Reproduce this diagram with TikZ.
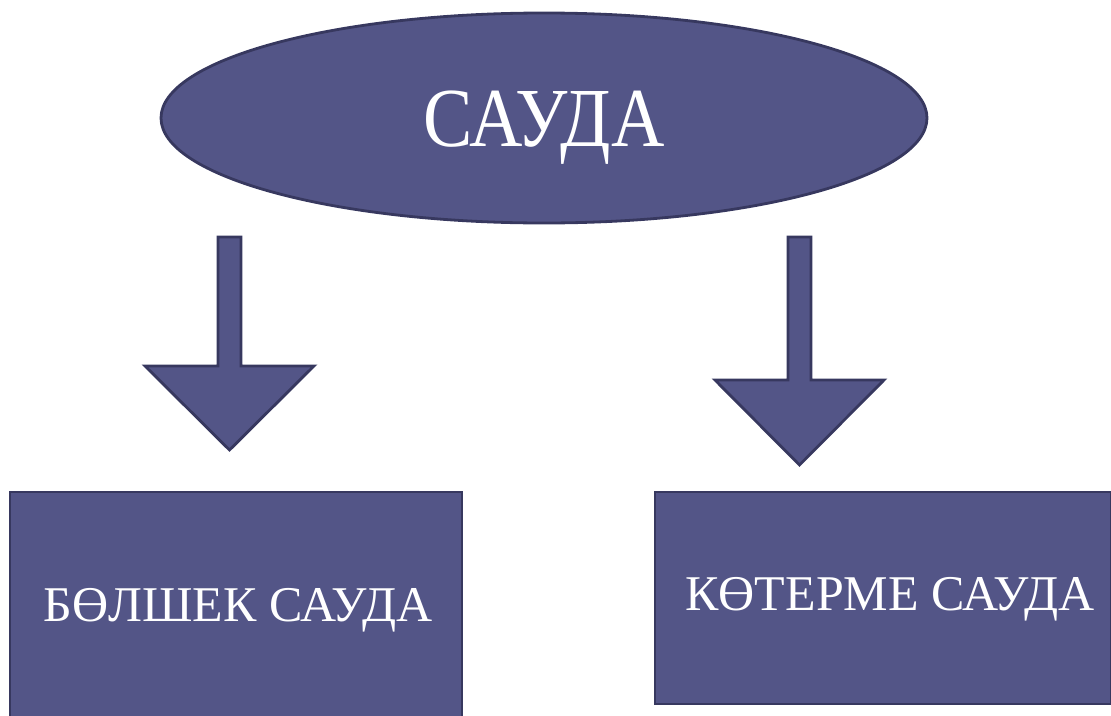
\documentclass[tikz,border=0pt]{standalone}
\usepackage{fontspec}
\setmainfont{Liberation Serif}
\usetikzlibrary{shapes.geometric}
\definecolor{boxfill}{HTML}{535587}
\definecolor{boxline}{HTML}{37385F}
\tikzset{
  shape fill/.style={fill=boxfill, draw=boxline, line width=2.8pt, line join=miter},
  label text/.style={text=white, font=\fontsize{50}{56}\selectfont, inner sep=0pt},
}
\begin{document}
\begin{tikzpicture}[x=1pt,y=-1pt]
\useasboundingbox (0,0) rectangle (1111,715);
% ellipse
\node[shape fill, ellipse, minimum width=766pt, minimum height=210pt, inner sep=0pt] (top) at (544,118) {};
\node[text=white, inner sep=0pt, font=\fontsize{84}{90}\selectfont] (toptext) at (544,128) {\scalebox{0.88}[1]{САУДА}};
% boxes
\node[shape fill, rectangle, minimum width=452pt, minimum height=232pt, inner sep=0pt] (left) at (236,608) {};
\node[shape fill, rectangle, minimum width=456pt, minimum height=212pt, inner sep=0pt] (right) at (883,598) {};
\node[label text] (lefttext) at (238,610) {БӨЛШЕК САУДА};
\node[label text] (righttext) at (890,599) {КӨТЕРМЕ САУДА};
% block arrows
\draw[shape fill] (218,237) -- (241,237) -- (241,366) -- (314,366) -- (229.5,450) -- (145,366) -- (218,366) -- cycle;
\draw[shape fill] (788,237) -- (811,237) -- (811,380) -- (884,380) -- (799.5,465) -- (715,380) -- (788,380) -- cycle;
\end{tikzpicture}
\end{document}
